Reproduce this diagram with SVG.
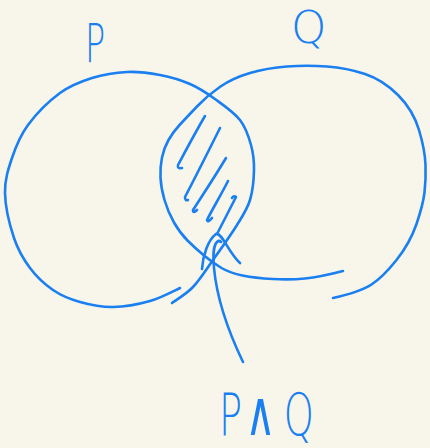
<svg xmlns="http://www.w3.org/2000/svg" width="430" height="448" viewBox="0 0 430 448">
<style>
.ink{fill:none;stroke:#1a7ff0;stroke-width:2.6;stroke-linecap:round;stroke-linejoin:round}
.lbl{fill:#1a7ff0;font-family:"DejaVu Sans","Liberation Sans",sans-serif;font-weight:200}
</style>
<rect width="430" height="448" fill="#f8f6eb"/>
<g id="set-p">
<path class="ink" d="M180,288 C175,290.2 161.2,297.8 150,301 C138.8,304.2 124.7,306.8 113,307 C101.3,307.2 90,304.8 80,302 C70,299.2 61.3,295.7 53,290 C44.7,284.3 36.5,276.7 30,268 C23.5,259.3 18.2,250.5 14,238 C9.8,225.5 5.3,206.3 5,193 C4.7,179.7 8.2,169.3 12,158 C15.8,146.7 20,135.8 28,125 C36,114.2 49.3,100.8 60,93 C70.7,85.2 80.8,81.5 92,78 C103.2,74.5 115.7,72.5 127,72 C138.3,71.5 149.5,73 160,75 C170.5,77 180.8,80 190,84 C199.2,88 206.7,93 215,99 C223.3,105 234,112.3 240,120 C246,127.7 248.7,136.7 251,145 C253.3,153.3 254.2,160.8 254,170 C253.8,179.2 252.8,190.8 250,200 C247.2,209.2 243.2,215 237,225 C230.8,235 220.3,249.7 213,260 C205.7,270.3 199.8,279.8 193,287 C186.2,294.2 175.5,300.3 172,303"/>
<text class="lbl" transform="translate(85,62) scale(0.62,1)" font-size="54">P</text>
</g>
<g id="set-q">
<path class="ink" d="M343,271 Q320,277 305,278.5 Q290,280 272.5,279 Q255,278 242.5,275.5 Q230,273 221.5,268 Q213,263 204,255.5 Q195,248 187.5,240.5 Q180,233 174,222.5 Q168,212 164.5,200 Q161,188 160.5,177.5 Q160,167 162,157.5 Q164,148 168.5,140 Q173,132 180,124.5 Q187,117 197.5,106 Q208,95 220.5,86.5 Q233,78 250,73 Q267,68 287,66.5 Q307,65 327,66.5 Q347,68 365,74 Q383,80 398,95 Q413,110 419,130 Q425,150 425.5,165 Q426,180 424.5,192.5 Q423,205 416.5,224 Q410,243 396.5,260 Q383,277 371.5,284.5 Q360,292 333,298"/>
<text class="lbl" x="291" y="43" font-size="45">Q</text>
</g>
<g id="intersection-hatch">
<path class="ink" d="M205,116 C195,133 185,152 178,165 Q177,169 182,168"/>
<path class="ink" d="M220,128 C208,152 195,178 185,197 Q185,201 188,200"/>
<path class="ink" d="M226,158 C214,178 202,196 193,210 Q193,214 197,210"/>
<path class="ink" d="M228,181 C221,195 213,208 207,220 Q208,223 212,218"/>
<path class="ink" d="M232,198 Q234,195 236,197 L217,234"/>
<path class="ink" d="M202,269 C203,255 208,240 216,234 C222,232 228,252 240,263"/>
</g>
<g id="connectors">
<path class="ink" d="M243,362 C230,335 217,300 214,268 C213,255 213,246 217,242 Q219,240 221,242"/>
</g>
<g id="label-pq">
<text class="lbl" transform="scale(0.66,1)" y="435" font-size="58"><tspan x="332">P</tspan><tspan x="372" font-size="62" font-weight="normal">∧</tspan><tspan x="430">Q</tspan></text>
</g>
</svg>
